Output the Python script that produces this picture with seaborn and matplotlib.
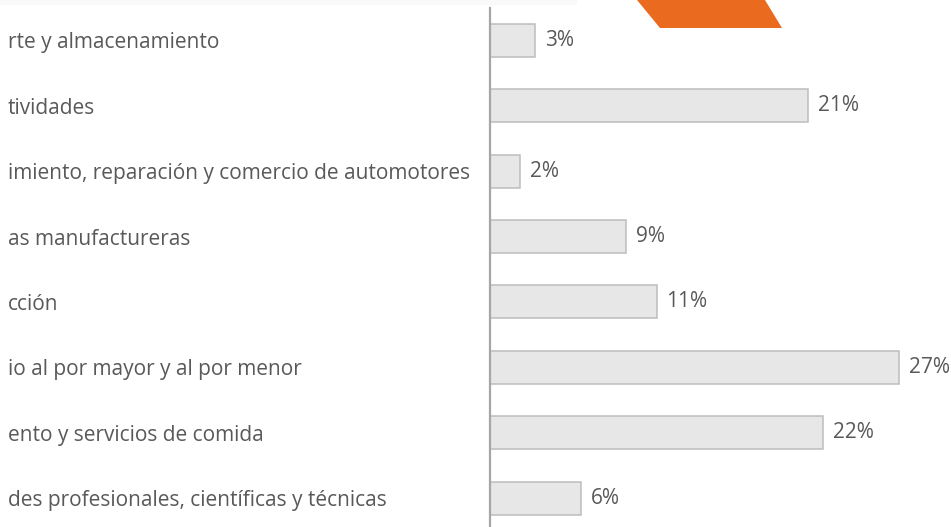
import matplotlib
matplotlib.use("Agg")
import matplotlib.pyplot as plt
import seaborn as sns
import pandas as pd
from matplotlib.patches import Polygon, Rectangle

# Sector labels (as visible in the panel) and their share of firms
sectores = [
    "rte y almacenamiento",
    "tividades",
    "imiento, reparación y comercio de automotores",
    "as manufactureras",
    "cción",
    "io al por mayor y al por menor",
    "ento y servicios de comida",
    "des profesionales, científicas y técnicas",
]
porcentajes = [3, 21, 2, 9, 11, 27, 22, 6]
etiquetas = [f"{v}%" for v in porcentajes]

W, H = 951, 527
TEXT = "#595959"
FS = 15.0

sns.set_theme(style="white")
plt.rcParams["font.family"] = ["Open Sans", "DejaVu Sans"]

fig = plt.figure(figsize=(W / 100, H / 100), dpi=100)
fig.patch.set_facecolor("white")

ax = fig.add_axes([490 / W, 1 - 530.7 / H, (W - 490) / W, 522.9 / H])
df = pd.DataFrame({"sector": sectores, "pct": porcentajes})
sns.barplot(
    data=df, x="pct", y="sector", orient="h", width=0.505,
    color="#e7e7e7", edgecolor="#bdbdbd", linewidth=1.1,
    saturation=1, ax=ax,
)
ax.set_ylim(7.5, -0.5)
ax.set_xlim(0, 461 / 15.15)
ax.set_xlabel("")
ax.set_ylabel("")
ax.set_xticks([])

ax.set_yticks(range(len(sectores)))
ax.set_yticklabels(sectores, ha="left", color=TEXT, fontsize=FS)
ax.tick_params(axis="y", length=0, pad=(490 - 8) * 0.72)

ax.bar_label(ax.containers[0], labels=etiquetas, padding=7,
             color=TEXT, fontsize=FS)

for s in ("top", "right", "bottom"):
    ax.spines[s].set_visible(False)
ax.spines["left"].set_color("#a6a6a6")
ax.spines["left"].set_linewidth(1.6)

# Header decoration: faint strip and orange slanted tab
fig.patches.append(Rectangle((0, 1 - 5 / H), 577 / W, 5 / H,
                             transform=fig.transFigure, facecolor="#f9f9f9",
                             edgecolor="none", zorder=0))
tab = [(637, 0), (660, 28), (782, 28), (765, 0)]
fig.patches.append(Polygon([(x / W, 1 - y / H) for x, y in tab], closed=True,
                           transform=fig.transFigure, facecolor="#ea6a1f",
                           edgecolor="none", zorder=3))

fig.savefig("out.png", dpi=100)
